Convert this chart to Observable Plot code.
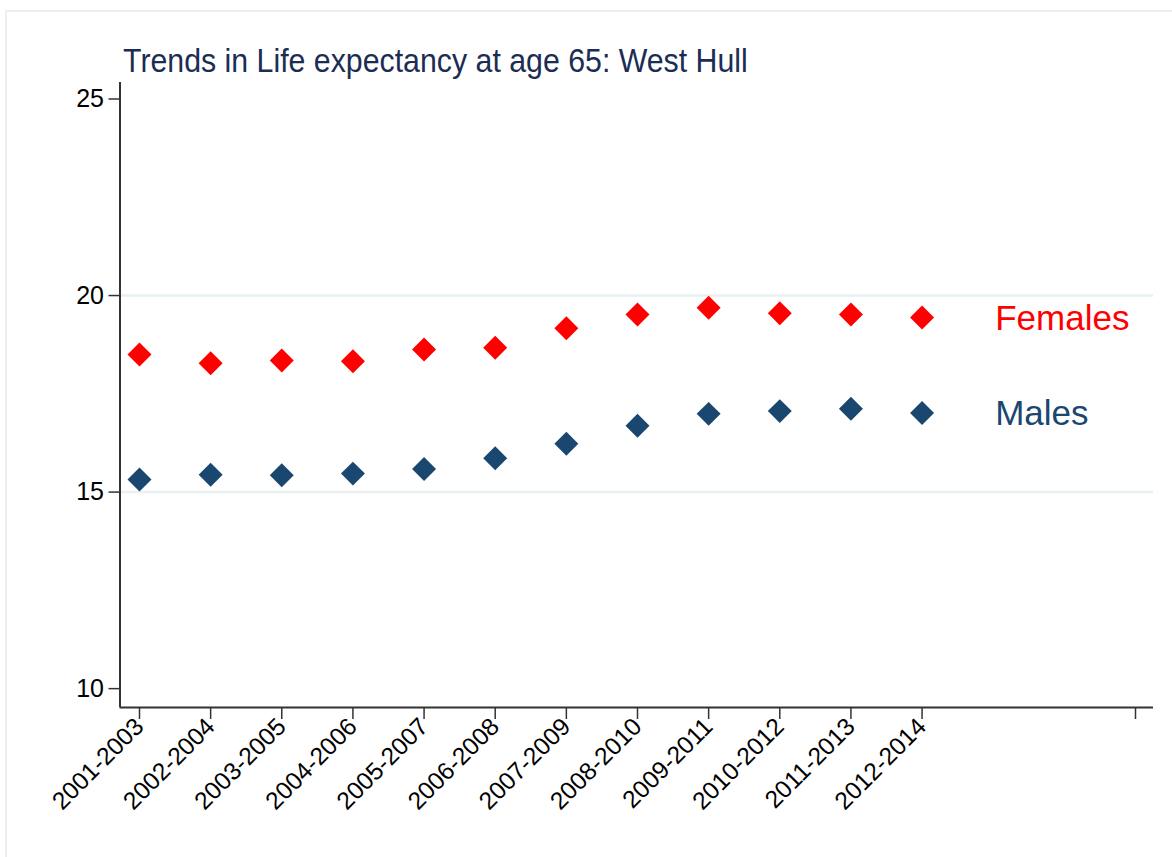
<!DOCTYPE html>
<html>
<head>
<meta charset="utf-8">
<script src="https://cdn.jsdelivr.net/npm/d3@7"></script>
<script src="https://cdn.jsdelivr.net/npm/@observablehq/plot@0.6"></script>
<style>
  html, body { margin: 0; padding: 0; background: #ffffff; }
  #wrap { position: relative; width: 1172px; height: 857px; overflow: hidden; background: #ffffff; }
  #frame { position: absolute; left: 5px; top: 10px; width: 1300px; height: 1000px; border: 2px solid #e8f0f2; box-sizing: border-box; pointer-events: none; }
  #title { position: absolute; left: 123px; top: 48px; font-family: "Liberation Sans", Arial, sans-serif; font-size: 30.3px; line-height: 30px; color: #1c2d54; white-space: nowrap; transform: scaleY(1.12); transform-origin: left bottom; }
  #chart { position: absolute; left: 0; top: 0; }
</style>
</head>
<body>
<div id="wrap">
  <div id="chart"></div>
  <div id="frame"></div>
  <div id="title">Trends in Life expectancy at age 65: West Hull</div>
</div>
<script>
const periods = ["2001-2003","2002-2004","2003-2005","2004-2006","2005-2007","2006-2008","2007-2009","2008-2010","2009-2011","2010-2012","2011-2013","2012-2014"];
const females = [18.50, 18.28, 18.35, 18.33, 18.63, 18.67, 19.17, 19.52, 19.69, 19.55, 19.52, 19.44];
const males   = [15.32, 15.44, 15.43, 15.47, 15.59, 15.86, 16.23, 16.69, 16.99, 17.06, 17.12, 17.01];
const seriesNames = ["Females", "Males"];
const seriesColors = ["#ff0000", "#1a476f"];
const yTicks = [10, 15, 20, 25];
const gridValues = [15, 20];
const extraTick = 15;
const labelPosition = 13;
const xDomain = [0.726, 15.253];
const yDomain = [9.52, 25.42];

const positions = periods.map((_, i) => i + 1);
const xTicks = [...positions, extraTick];
const tickText = new Map(positions.map((p, i) => [p, periods[i]]));

const rows = [];
[females, males].forEach((vals, s) => {
  vals.forEach((v, i) => rows.push({series: seriesNames[s], x: positions[i], value: v, color: seriesColors[s]}));
});
const endLabels = seriesNames.map((name, s) => {
  const vals = s === 0 ? females : males;
  return {series: name, x: labelPosition, value: vals[vals.length - 1], color: seriesColors[s]};
});

const chart = Plot.plot({
  width: 1172,
  height: 857,
  marginTop: 82,
  marginBottom: 150,
  marginLeft: 119.5,
  marginRight: 19,
  style: {fontFamily: "'Liberation Sans', Arial, sans-serif", background: "transparent", color: "#000"},
  x: {type: "linear", domain: xDomain},
  y: {domain: yDomain},
  marks: [
    Plot.ruleY(gridValues, {stroke: "#e8f0f2", strokeWidth: 2.5}),
    Plot.axisY({ticks: yTicks, tickSize: 11, tickPadding: 5, fontSize: 25, stroke: "#333", strokeWidth: 1.5, fill: "#000", label: null}),
    Plot.axisX({ticks: xTicks, tickFormat: d => tickText.get(d) || "", tickRotate: -45, tickSize: 12, tickPadding: 3, fontSize: 24.5, stroke: "#333", strokeWidth: 1.5, fill: "#000", label: null}),
    Plot.ruleX([xDomain[0]], {stroke: "#333", strokeWidth: 2}),
    Plot.ruleY([yDomain[0]], {stroke: "#333", strokeWidth: 2}),
    Plot.dot(rows, {x: "x", y: "value", symbol: "diamond2", r: 10.8, fill: "color", stroke: "none"}),
    Plot.text(endLabels, {x: "x", y: "value", text: "series", fill: "color", fontSize: 35, textAnchor: "start", dx: 2, dy: 1})
  ]
});
document.getElementById("chart").appendChild(chart);
</script>
</body>
</html>
